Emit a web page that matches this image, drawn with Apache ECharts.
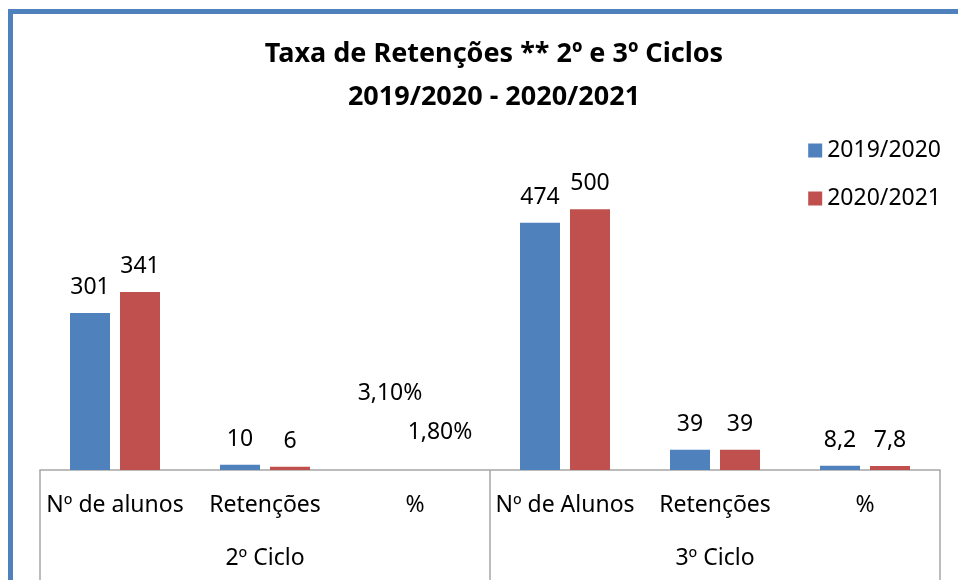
<!DOCTYPE html>
<html>
<head>
<meta charset="utf-8">
<script src="https://cdn.jsdelivr.net/npm/echarts@6/dist/echarts.min.js"></script>
<style>
  html, body { margin: 0; padding: 0; background: #fff; }
  #chart { width: 958px; height: 580px; }
</style>
</head>
<body>
<div id="chart"></div>
<script>
const categories = ['Nº de alunos', 'Retenções', '%', 'Nº de Alunos', 'Retenções', '%'];
const groups = ['2º Ciclo', '3º Ciclo'];
const seriesNames = ['2019/2020', '2020/2021'];
const values2019 = [301, 10, 0.031, 474, 39, 8.2];
const values2020 = [341, 6, 0.018, 500, 39, 7.8];
// the two small % labels of 2º Ciclo sit higher up in the original
const labelDist2019 = [14, 14, 65, 14, 14, 14];
const labelDist2020 = [14, 14, 26, 14, 14, 14];

const FONT = '"Noto Sans", sans-serif';

// portuguese style numbers, fractions shown as percentages
const fmt = v => {
  if (v < 1) return (v * 100).toFixed(2).replace('.', ',') + '%';
  return String(v).replace('.', ',');
};

const makeData = (vals, dists) => vals.map((v, i) => ({
  value: v,
  label: { distance: dists[i] }
}));

const chart = echarts.init(document.getElementById('chart'));
chart.setOption({
  animation: false,
  color: ['#4F81BD', '#C0504D'],
  textStyle: { fontFamily: FONT },
  title: {
    text: 'Taxa de Retenções ** 2º e 3º Ciclos\n2019/2020 - 2020/2021',
    left: 489,
    textAlign: 'center',
    top: 28,
    textStyle: { fontSize: 27, fontWeight: 'bold', color: '#000', lineHeight: 43, fontFamily: FONT }
  },
  legend: {
    orient: 'vertical',
    right: 12,
    top: 134,
    itemWidth: 14,
    itemHeight: 14,
    itemGap: 25,
    icon: 'rect',
    textStyle: { fontSize: 23, color: '#000', fontFamily: FONT }
  },
  grid: { left: 40, right: 18, top: 157, bottom: 110 },
  xAxis: [
    {
      type: 'category',
      data: categories,
      axisLine: { lineStyle: { color: '#a6a6a6', width: 1.5 } },
      axisTick: { show: false },
      axisLabel: { fontSize: 23, color: '#000', margin: 24, interval: 0, fontFamily: FONT }
    },
    {
      type: 'category',
      data: groups,
      position: 'bottom',
      axisLine: { show: false },
      axisTick: { show: true, length: 120, lineStyle: { color: '#a6a6a6', width: 1.5 } },
      axisLabel: { fontSize: 23, color: '#000', margin: 77, fontFamily: FONT }
    }
  ],
  yAxis: { type: 'value', min: 0, max: 600, show: false },
  series: [
    {
      name: seriesNames[0],
      type: 'bar',
      barGap: '25%',
      barCategoryGap: '40%',
      data: makeData(values2019, labelDist2019),
      label: { show: true, position: 'top', fontSize: 23, color: '#000', fontFamily: FONT,
        formatter: p => fmt(p.value) }
    },
    {
      name: seriesNames[1],
      type: 'bar',
      barGap: '25%',
      barCategoryGap: '40%',
      data: makeData(values2020, labelDist2020),
      label: { show: true, position: 'top', fontSize: 23, color: '#000', fontFamily: FONT,
        formatter: p => fmt(p.value) }
    }
  ],
  graphic: [
    {
      type: 'rect',
      shape: { x: 10.5, y: 11.5, width: 1000, height: 1000 },
      style: { fill: 'none', stroke: '#4F81BD', lineWidth: 5 },
      silent: true
    }
  ]
});
</script>
</body>
</html>
